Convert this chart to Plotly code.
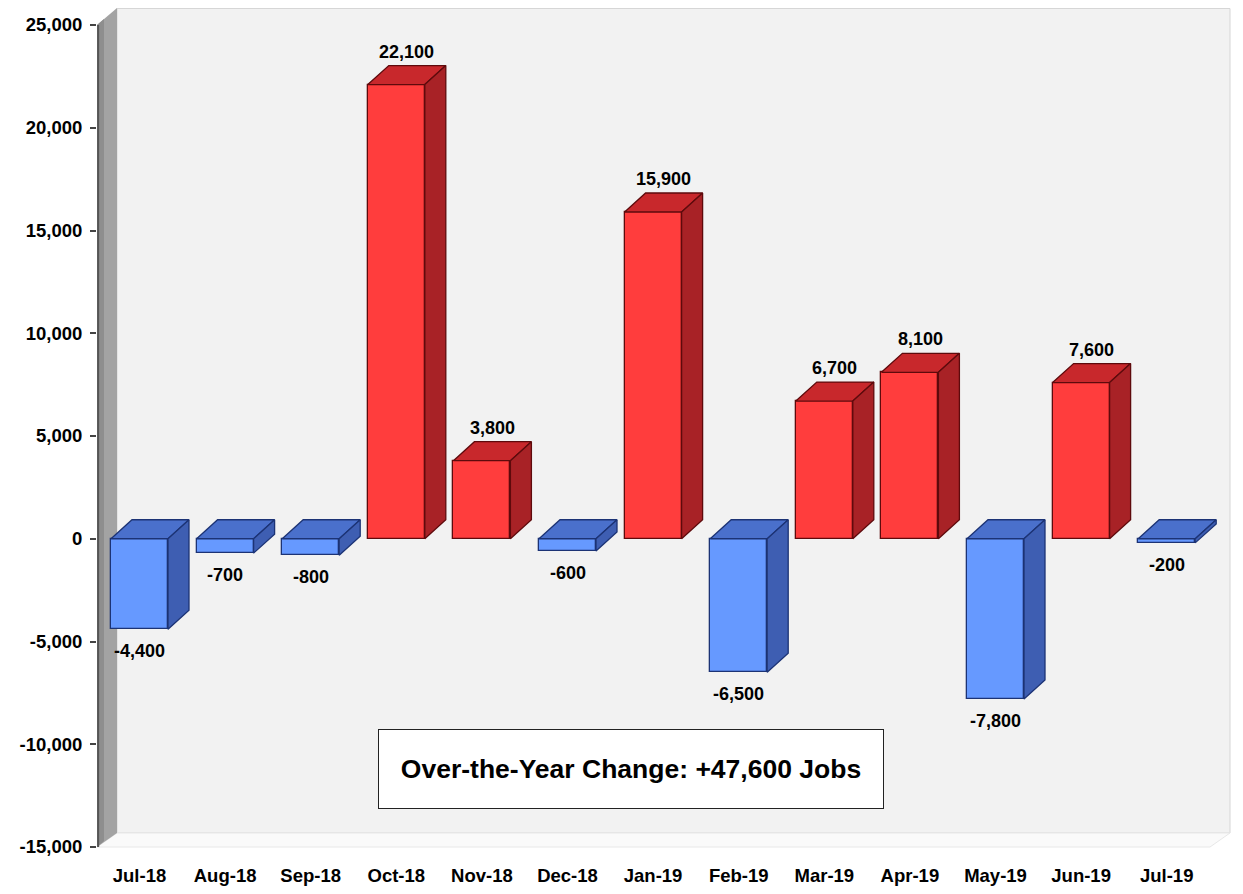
import plotly.graph_objects as go

# ---------------- data ----------------
months = ["Jul-18", "Aug-18", "Sep-18", "Oct-18", "Nov-18", "Dec-18", "Jan-19",
          "Feb-19", "Mar-19", "Apr-19", "May-19", "Jun-19", "Jul-19"]
change = [-4400, -700, -800, 22100, 3800, -600, 15900,
          -6500, 6700, 8100, -7800, 7600, -200]
y_ticks = [-15000, -10000, -5000, 0, 5000, 10000, 15000, 20000, 25000]
y_tick_text = [f"{v:,}" for v in y_ticks]
note_text = "Over-the-Year Change: +47,600 Jobs"

# ---------------- layout geometry (styling) ----------------
PAGE_OFF = 8                       # default body margin of the html page
W, H = 1243 - PAGE_OFF, 894 - PAGE_OFF
ML, MR, MT, MB = 97 - PAGE_OFF, 11, 8 - PAGE_OFF, 44
plot_w = W - ML - MR
plot_h = H - MT - MB
y_min_tick, y_max_tick = y_ticks[0], y_ticks[-1]
k = 822.0 / (y_max_tick - y_min_tick)          # px per unit (y)
yr = [y_min_tick - 3 / k, y_max_tick + 17 / k]
pxc = 85.6                                       # px per category
first_c = 139.5
left_px = 97.0
xr = [(left_px - first_c) / pxc, (left_px + plot_w - first_c) / pxc]

wall_dx = 20 / pxc
wall_dy = 17 / k
bar_w = 57 / pxc
bar_off = -bar_w / 2
ddx = 21 / pxc
ddy = 19 / k

FONT = "Liberation Sans, Arial, sans-serif"

pos_cols = dict(front="#FF3D3D", top="#C8282C", side="#A82226", line="#5E0A0C")
neg_cols = dict(front="#6699FF", top="#4A70CC", side="#3E5EB2", line="#1C3375")

fig = go.Figure()

# ---------------- background: walls & floor ----------------
floor_back = y_min_tick + 14 / k
right_x = xr[1] - 2 / pxc
shapes = []
# back wall
shapes.append(dict(type="rect", xref="x", yref="y", layer="below",
                   x0=xr[0] + wall_dx, x1=right_x,
                   y0=floor_back, y1=yr[1] - 0.5 / k,
                   fillcolor="#F2F2F2", line=dict(color="#D6D6D6", width=1)))
# floor
shapes.append(dict(type="path", xref="x", yref="y", layer="below",
                   path=(f"M{xr[0]},{y_min_tick} L{xr[0] + wall_dx},{floor_back} "
                         f"L{right_x},{floor_back} L{right_x - wall_dx},{y_min_tick} Z"),
                   fillcolor="#FAFAFA", line=dict(color="#E8E8E8", width=1)))
# left side wall
shapes.append(dict(type="path", xref="x", yref="y", layer="below",
                   path=(f"M{xr[0]},{y_max_tick} L{xr[0] + wall_dx},{y_max_tick + wall_dy} "
                         f"L{xr[0] + wall_dx},{floor_back} L{xr[0]},{y_min_tick} Z"),
                   fillcolor="#A3A3A3", line=dict(width=0)))
shapes.append(dict(type="path", xref="x", yref="y", layer="below",
                   path=(f"M{xr[0]},{y_max_tick} L{xr[0] + wall_dx * 0.35},{y_max_tick + wall_dy * 0.35} "
                         f"L{xr[0] + wall_dx * 0.35},{y_min_tick + wall_dy * 0.35} L{xr[0]},{y_min_tick} Z"),
                   fillcolor="#8E8E8E", line=dict(width=0)))
# axis line (front edge of side wall)
shapes.append(dict(type="line", xref="paper", yref="y", layer="above",
                   x0=0.001, x1=0.001, y0=y_min_tick, y1=y_max_tick,
                   line=dict(color="#555555", width=2)))

# ---------------- bars: front faces ----------------
fronts = [pos_cols["front"] if v >= 0 else neg_cols["front"] for v in change]
lines = [pos_cols["line"] if v >= 0 else neg_cols["line"] for v in change]
fig.add_trace(go.Bar(x=list(range(len(months))), y=change, base=0,
                     width=bar_w, offset=bar_off,
                     marker=dict(color=fronts, line=dict(color=lines, width=1.3)),
                     hoverinfo="skip", showlegend=False))

# ---------------- bars: top and side faces ----------------
def add_faces(sign_pos):
    cols = pos_cols if sign_pos else neg_cols
    tx, ty, sx, sy = [], [], [], []
    for i, v in enumerate(change):
        if (v >= 0) != sign_pos:
            continue
        x0 = i + bar_off
        x1 = x0 + bar_w
        yt = max(v, 0)
        yb = min(v, 0)
        tx += [x0, x0 + ddx, x1 + ddx, x1, x0, None]
        ty += [yt, yt + ddy, yt + ddy, yt, yt, None]
        sx += [x1, x1 + ddx, x1 + ddx, x1, x1, None]
        sy += [yt, yt + ddy, yb + ddy, yb, yt, None]
    fig.add_trace(go.Scatter(x=tx, y=ty, mode="lines", fill="toself",
                             fillcolor=cols["top"], line=dict(color=cols["line"], width=1.3),
                             hoverinfo="skip", showlegend=False))
    fig.add_trace(go.Scatter(x=sx, y=sy, mode="lines", fill="toself",
                             fillcolor=cols["side"], line=dict(color=cols["line"], width=1.3),
                             hoverinfo="skip", showlegend=False))

add_faces(True)
add_faces(False)

# ---------------- data labels ----------------
annotations = []
for i, v in enumerate(change):
    if v >= 0:
        annotations.append(dict(x=i + ddx / 2, y=v + ddy,
                                xref="x", yref="y", text=f"{v:,}", showarrow=False,
                                yshift=14, yanchor="middle",
                                font=dict(family=FONT, size=18, color="black", weight="bold")))
    else:
        annotations.append(dict(x=i, y=v,
                                xref="x", yref="y", text=f"{v:,}", showarrow=False,
                                yshift=-22, yanchor="middle",
                                font=dict(family=FONT, size=18, color="black", weight="bold")))

# note box
annotations.append(dict(x=(631 - left_px) / plot_w, y=(850 - 769) / plot_h,
                        xref="paper", yref="paper", text=note_text, showarrow=False,
                        xanchor="center", yanchor="middle",
                        width=472, height=46, borderpad=16,
                        bgcolor="white", bordercolor="#222222", borderwidth=1,
                        font=dict(family=FONT, size=26.5, color="black", weight="bold")))

fig.update_layout(
    width=W, height=H,
    margin=dict(l=ML, r=MR, t=MT, b=MB, pad=0, autoexpand=False),
    paper_bgcolor="white", plot_bgcolor="white",
    shapes=shapes, annotations=annotations,
    showlegend=False, bargap=0,
    xaxis=dict(range=xr, tickvals=list(range(len(months))), ticktext=months,
               showgrid=False, zeroline=False, showline=False, ticks="",
               ticklabelstandoff=12, automargin=False,
               tickfont=dict(family=FONT, size=18.5, color="black", weight="bold"),
               fixedrange=True),
    yaxis=dict(range=yr, tickvals=y_ticks, ticktext=y_tick_text,
               showgrid=False, zeroline=False, showline=False,
               ticks="outside", ticklen=6, tickwidth=1.5, tickcolor="#444444",
               ticklabelstandoff=4, automargin=False,
               tickfont=dict(family=FONT, size=18.5, color="black", weight="bold"),
               fixedrange=True),
)

fig.write_html("out.html")
